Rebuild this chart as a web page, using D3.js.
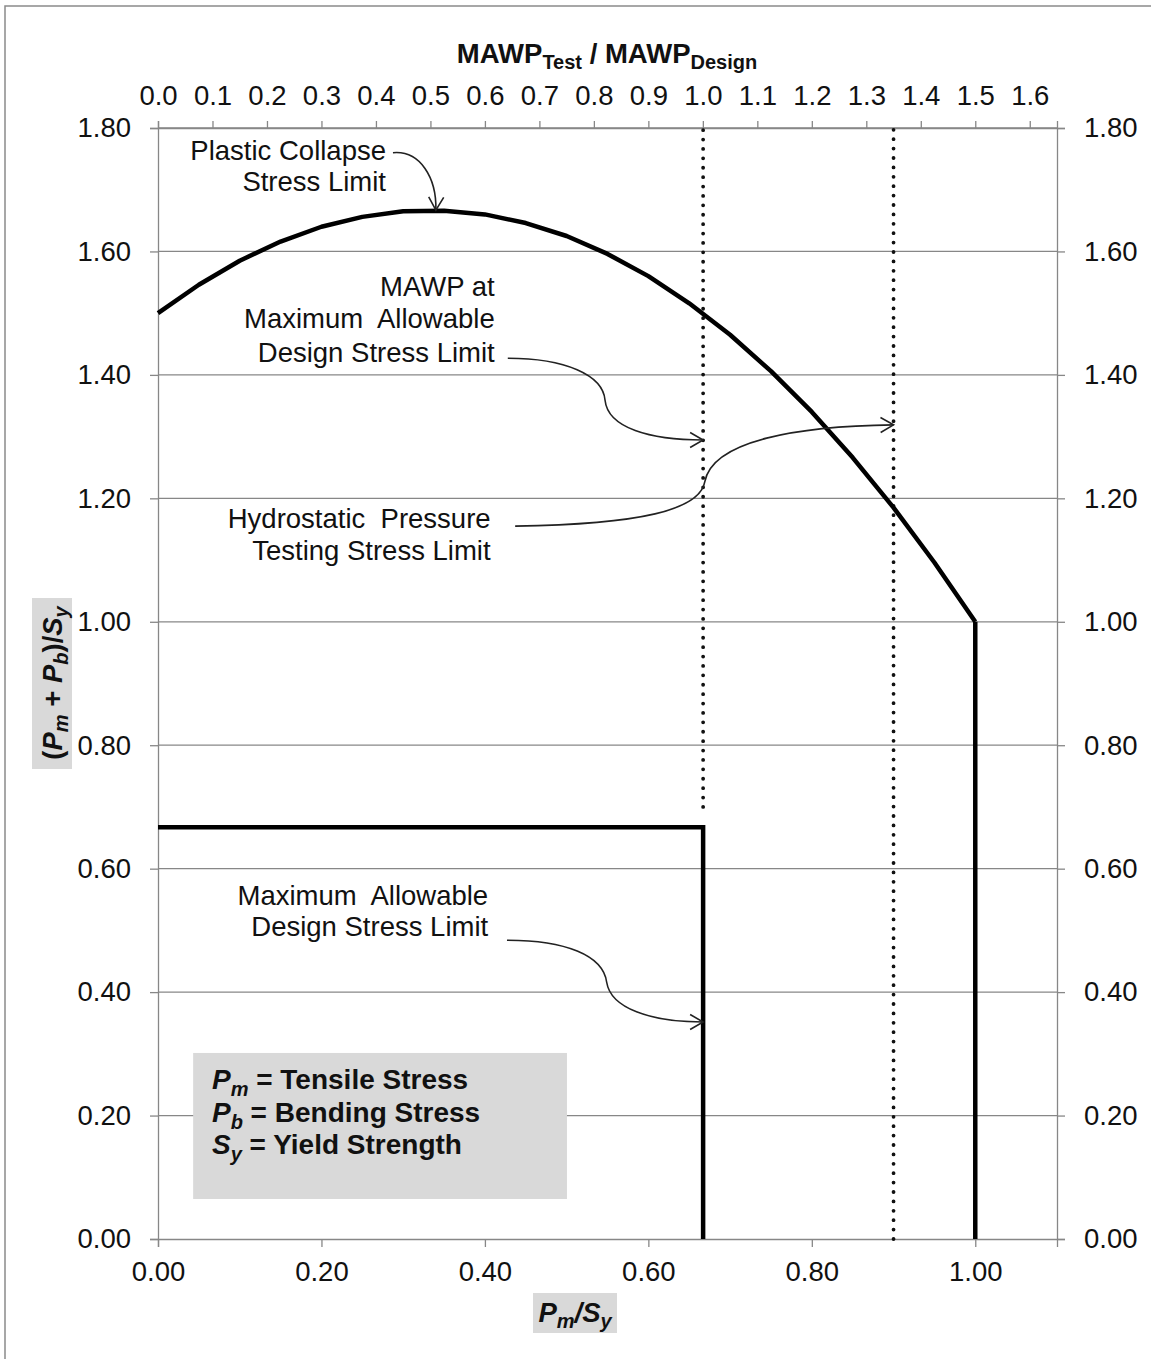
<!DOCTYPE html>
<html>
<head>
<meta charset="utf-8">
<script src="https://cdn.jsdelivr.net/npm/d3@7"></script>
<style>
  body { margin: 0; background: #fff; }
  svg { display: block; font-family: "Liberation Sans", Arial, sans-serif; }
  .tick text { font-size: 27.5px; fill: #111; }
  .note { font-size: 27.5px; fill: #111; white-space: pre; }
</style>
</head>
<body>
<svg id="chart" width="1151" height="1359"></svg>
<script>
// Pm/Sy values and the plastic collapse curve
const pmSy = [0, 0.05, 0.1, 0.15, 0.2, 0.25, 0.3, 0.35, 0.4, 0.45, 0.5,
  0.55, 0.6, 0.65, 0.7, 0.75, 0.8, 0.85, 0.9, 0.95, 1.0]
const collapse = [1.50, 1.546, 1.585, 1.616, 1.64, 1.656, 1.665, 1.666, 1.66, 1.646, 1.625,
  1.596, 1.56, 1.516, 1.465, 1.406, 1.34, 1.266, 1.185, 1.096, 1.00]

// vertical drop of the collapse limit at Pm/Sy = 1
const dropX = [1.0, 1.0]
const dropY = [1.0, 0.0]

// maximum allowable design stress limit
const designX = [0, 0.667, 0.667]
const designY = [0.667, 0.667, 0]

// dotted lines
const dotX = [0.667, 0.9]
const dotFrom = [0.70, 0.0]
const dotTo = [1.80, 1.80]

// ticks
const bottomTicks = [0, 0.2, 0.4, 0.6, 0.8, 1.0]
const topTicks = [0, 0.1, 0.2, 0.3, 0.4, 0.5, 0.6, 0.7, 0.8, 0.9, 1.0, 1.1, 1.2, 1.3, 1.4, 1.5, 1.6]
const yTicks = [0, 0.2, 0.4, 0.6, 0.8, 1.0, 1.2, 1.4, 1.6, 1.8]

// annotation texts (right aligned), positions in data units
const noteLines = [
  ["Plastic Collapse", 0.279, 1.764],
  ["Stress Limit", 0.279, 1.713],
  ["MAWP at", 0.412, 1.544],
  ["Maximum  Allowable", 0.412, 1.491],
  ["Design Stress Limit", 0.412, 1.437],
  ["Hydrostatic  Pressure", 0.407, 1.168],
  ["Testing Stress Limit", 0.407, 1.116],
  ["Maximum  Allowable", 0.404, 0.557],
  ["Design Stress Limit", 0.404, 0.506]
]

// arrow curves: start, then groups of 3 bezier points
const arrows = [
  [[0.2875, 1.760], [0.321, 1.764], [0.341, 1.719], [0.340, 1.667]],
  [[0.428, 1.427], [0.498, 1.427], [0.5445, 1.400], [0.547, 1.359],
   [0.5505, 1.314], [0.602, 1.2946], [0.667, 1.2946]],
  [[0.437, 1.155], [0.590, 1.158], [0.663, 1.181], [0.669, 1.2265],
   [0.678, 1.2946], [0.785, 1.317], [0.900, 1.319]],
  [[0.427, 0.484], [0.498, 0.484], [0.5445, 0.460], [0.549, 0.416],
   [0.554, 0.374], [0.602, 0.3516], [0.667, 0.3516]]
]

const legendLines = [["P", "m", " = Tensile Stress"], ["P", "b", " = Bending Stress"], ["S", "y", " = Yield Strength"]]

const svg = d3.select('#chart')
const grey = '#878787'

let x = d3.scaleLinear().domain([0, 1.1]).range([158, 1057])
let xTop = d3.scaleLinear().domain([0, 1.65]).range([158, 1057])
let y = d3.scaleLinear().domain([0, 1.8]).range([1239, 128])

// outer frame
svg.append('rect')
  .attr('x', 5).attr('y', 6).attr('width', 1200).attr('height', 1400)
  .attr('fill', 'none').attr('stroke', '#8a8a8a').attr('stroke-width', 1.5)

// gridlines
svg.append('g')
  .selectAll('line')
  .data(yTicks.filter(d => d > 0))
  .enter()
  .append('line')
  .attr('x1', x(0)).attr('x2', x(1.1))
  .attr('y1', d => y(d)).attr('y2', d => y(d))
  .attr('stroke', grey).attr('stroke-width', 1.3)

// axes
const fmt2 = d3.format('.2f')
const fmt1 = d3.format('.1f')

const axes = [
  svg.append('g').attr('transform', `translate(0, ${y(0)})`)
    .call(d3.axisBottom(x).tickValues(bottomTicks).tickFormat(fmt2).tickSize(8).tickPadding(14)),
  svg.append('g').attr('transform', `translate(0, ${y(1.8)})`)
    .call(d3.axisTop(xTop).tickValues(topTicks).tickFormat(fmt1).tickSize(7).tickPadding(16)),
  svg.append('g').attr('transform', `translate(${x(0)}, 0)`)
    .call(d3.axisLeft(y).tickValues(yTicks).tickFormat(fmt2).tickSize(8).tickPadding(19)),
  svg.append('g').attr('transform', `translate(${x(1.1)}, 0)`)
    .call(d3.axisRight(y).tickValues(yTicks).tickFormat(fmt2).tickSize(8).tickPadding(19))
]
axes.forEach(a => {
  a.attr('font-family', null).attr('font-size', null)
  a.selectAll('.domain').attr('stroke', grey).attr('stroke-width', 1.3)
  a.selectAll('.tick line').attr('stroke', grey).attr('stroke-width', 1.3)
})

// dotted lines
svg.append('g')
  .selectAll('line')
  .data(dotX)
  .enter()
  .append('line')
  .attr('x1', d => x(d)).attr('x2', d => x(d))
  .attr('y1', (d, i) => y(dotFrom[i])).attr('y2', (d, i) => y(dotTo[i]))
  .attr('stroke', '#111').attr('stroke-width', 3.8)
  .attr('stroke-linecap', 'round').attr('stroke-dasharray', '0 9.4')

// design stress limit
let line = d3.line().x(d => x(d[0])).y(d => y(d[1]))
svg.append('path')
  .datum(designX.map((d, i) => [d, designY[i]]))
  .attr('d', line)
  .attr('fill', 'none').attr('stroke', '#000').attr('stroke-width', 4.5)

// plastic collapse
svg.append('path')
  .datum(pmSy.map((d, i) => [d, collapse[i]]))
  .attr('d', line)
  .attr('fill', 'none').attr('stroke', '#000').attr('stroke-width', 4.5)
  .attr('stroke-linejoin', 'round')

svg.append('path')
  .datum(dropX.map((d, i) => [d, dropY[i]]))
  .attr('d', line)
  .attr('fill', 'none').attr('stroke', '#000').attr('stroke-width', 4.5)

// legend box
const lg = svg.append('g')
lg.append('rect')
  .attr('x', x(0.043)).attr('y', y(0.3014))
  .attr('width', x(0.5004) - x(0.043)).attr('height', y(0.0648) - y(0.3014))
  .attr('fill', '#d9d9d9')
lg.selectAll('text')
  .data(legendLines)
  .enter()
  .append('text')
  .attr('x', x(0.066))
  .attr('y', (d, i) => y(0.2555) + 8 + i * 32.5)
  .attr('font-size', 28).attr('font-weight', 'bold').attr('fill', '#111')
  .each(function (d) {
    const t = d3.select(this)
    t.append('tspan').attr('font-style', 'italic').text(d[0])
    t.append('tspan').attr('font-style', 'italic').attr('font-size', 20).attr('dy', 7).text(d[1])
    t.append('tspan').attr('dy', -7).text(d[2])
  })

// annotation texts
svg.append('g')
  .selectAll('text')
  .data(noteLines)
  .enter()
  .append('text')
  .attr('class', 'note')
  .attr('x', d => x(d[1]))
  .attr('y', d => y(d[2]))
  .attr('dy', '0.35em')
  .attr('text-anchor', 'end')
  .text(d => d[0])

// annotation arrows
arrows.forEach(pts => {
  const p = pts.map(d => [x(d[0]), y(d[1])])
  let dStr = `M${p[0][0]},${p[0][1]}`
  for (let i = 1; i + 2 < p.length + 1; i += 3) {
    dStr += ` C${p[i][0]},${p[i][1]} ${p[i + 1][0]},${p[i + 1][1]} ${p[i + 2][0]},${p[i + 2][1]}`
  }
  svg.append('path').attr('d', dStr)
    .attr('fill', 'none').attr('stroke', '#222').attr('stroke-width', 1.6)
  // open arrow head along last tangent
  const e = p[p.length - 1], c = p[p.length - 2]
  const ang = Math.atan2(e[1] - c[1], e[0] - c[0])
  const len = 15, spread = Math.PI / 6
  const a1 = [e[0] - len * Math.cos(ang - spread), e[1] - len * Math.sin(ang - spread)]
  const a2 = [e[0] - len * Math.cos(ang + spread), e[1] - len * Math.sin(ang + spread)]
  svg.append('path')
    .attr('d', `M${a1[0]},${a1[1]} L${e[0]},${e[1]} L${a2[0]},${a2[1]}`)
    .attr('fill', 'none').attr('stroke', '#222').attr('stroke-width', 1.6)
})

// top title
const tt = svg.append('text')
  .attr('x', 607).attr('y', 63)
  .attr('text-anchor', 'middle')
  .attr('font-size', 27.5).attr('font-weight', 'bold').attr('fill', '#111')
tt.append('tspan').text('MAWP')
tt.append('tspan').attr('font-size', 20).attr('dy', 6).text('Test')
tt.append('tspan').attr('dy', -6).text(' / MAWP')
tt.append('tspan').attr('font-size', 20).attr('dy', 6).text('Design')

// bottom title
svg.append('rect')
  .attr('x', 533).attr('y', 1293).attr('width', 84).attr('height', 40)
  .attr('fill', '#d9d9d9')
const bt = svg.append('text')
  .attr('x', 575).attr('y', 1322)
  .attr('text-anchor', 'middle')
  .attr('font-size', 27.5).attr('font-weight', 'bold').attr('font-style', 'italic').attr('fill', '#111')
bt.append('tspan').text('P')
bt.append('tspan').attr('font-size', 20).attr('dy', 6).text('m')
bt.append('tspan').attr('dy', -6).text('/S')
bt.append('tspan').attr('font-size', 20).attr('dy', 6).text('y')

// left title
svg.append('rect')
  .attr('x', 32).attr('y', 598).attr('width', 40).attr('height', 171)
  .attr('fill', '#d9d9d9')
const lt = svg.append('text')
  .attr('transform', 'translate(62, 683) rotate(-90)')
  .attr('text-anchor', 'middle')
  .attr('font-size', 27.5).attr('font-weight', 'bold').attr('fill', '#111')
lt.append('tspan').text('(')
lt.append('tspan').attr('font-style', 'italic').text('P')
lt.append('tspan').attr('font-style', 'italic').attr('font-size', 20).attr('dy', 6).text('m')
lt.append('tspan').attr('dy', -6).text(' + ')
lt.append('tspan').attr('font-style', 'italic').text('P')
lt.append('tspan').attr('font-style', 'italic').attr('font-size', 20).attr('dy', 6).text('b')
lt.append('tspan').attr('dy', -6).text(')/')
lt.append('tspan').attr('font-style', 'italic').text('S')
lt.append('tspan').attr('font-style', 'italic').attr('font-size', 20).attr('dy', 6).text('y')
</script>
</body>
</html>
